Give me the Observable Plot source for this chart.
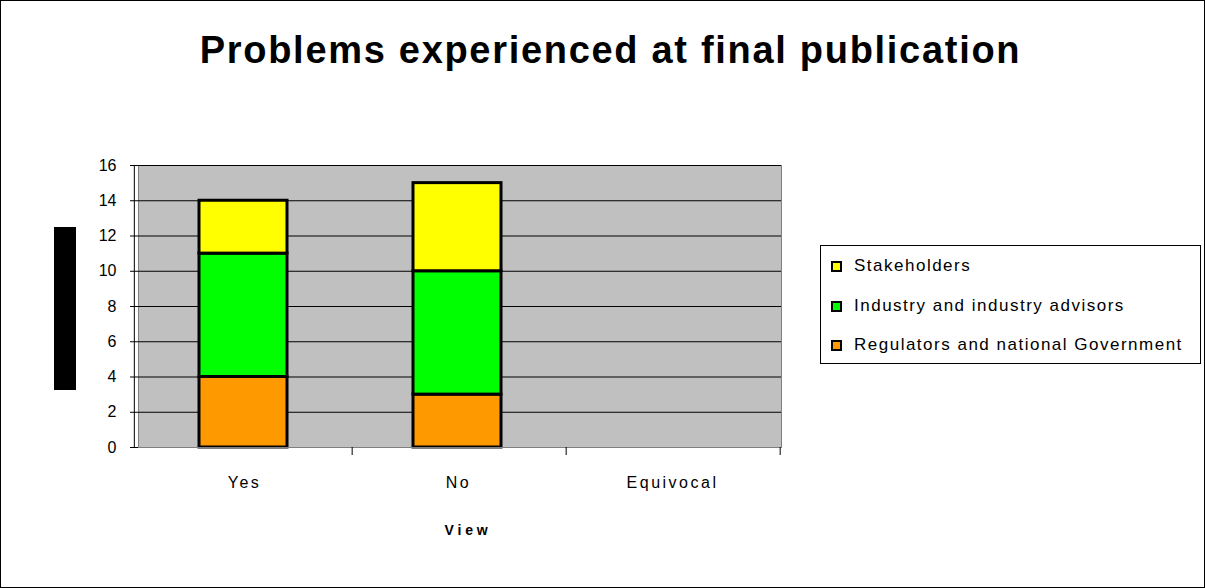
<!DOCTYPE html>
<html>
<head>
<meta charset="utf-8">
<script src="https://cdn.jsdelivr.net/npm/d3@7"></script>
<script src="https://cdn.jsdelivr.net/npm/@observablehq/plot@0.6"></script>
<style>
  body { margin: 0; background: #fff; }
  #frame { position: relative; width: 1205px; height: 588px; box-sizing: border-box; border: 1px solid #000; background: #fff; overflow: hidden; font-family: "Liberation Sans", Arial, sans-serif; }
  #title { position: absolute; left: 7px; width: 1205px; top: 28px; text-align: center; font-weight: bold; font-size: 38px; letter-spacing: 1.7px; color: #000; white-space: nowrap; }
  #chart { position: absolute; left: 0; top: 0; }
  #chart [aria-label="x-axis tick label"] { letter-spacing: 2.5px; }
  #xlabel { position: absolute; left: 367px; width: 200px; top: 521px; text-align: center; font-weight: bold; font-size: 14px; letter-spacing: 3.8px; }
  #ytitle { position: absolute; left: 53px; top: 226px; width: 22px; height: 163px; background: #000; }
  #legend { position: absolute; left: 819px; top: 244px; width: 381px; height: 119px; box-sizing: border-box; border: 1px solid #000; background: #fff; }
  .item { position: absolute; left: 10px; height: 20px; font-size: 17px; letter-spacing: 1.5px; display: flex; align-items: center; white-space: nowrap; }
  .sw { width: 7px; height: 7px; border: 2px solid #000; margin-right: 12px; flex: none; }
</style>
</head>
<body>
<div id="frame">
  <div id="title">Problems experienced at final publication</div>
  <div id="chart"></div>
  <div id="ytitle"></div>
  <div id="xlabel">View</div>
  <div id="legend"></div>
</div>
<script>
const categories = ["Yes", "No", "Equivocal"];
const seriesNames = ["Regulators and national Government", "Industry and industry advisors", "Stakeholders"];
const regulators = [4, 3, 0];
const industry = [7, 7, 0];
const stakeholders = [3, 5, 0];
const seriesColors = ["#FF9900", "#00FF00", "#FFFF00"];
const yTicks = [0, 2, 4, 6, 8, 10, 12, 14, 16];

const seriesValues = [regulators, industry, stakeholders];
const data = [];
seriesNames.forEach((s, si) => categories.forEach((c, ci) => data.push({view: c, series: s, value: seriesValues[si][ci]})));

const W = 800, H = 588, mL = 137, mR = 20, mT = 164, mB = 142;
const step = (W - mL - mR) / categories.length;

const plot = Plot.plot({
  width: W, height: H,
  marginLeft: mL, marginRight: mR, marginTop: mT, marginBottom: mB,
  style: {fontFamily: "'Liberation Sans', Arial, sans-serif", fontSize: "16px", color: "#000", background: "transparent"},
  x: {domain: categories, paddingInner: 0.59, paddingOuter: 0.295, align: 0.48, label: null},
  y: {domain: [0, 16], ticks: yTicks, label: null},
  color: {domain: seriesNames, range: seriesColors},
  marks: [
    Plot.frame({fill: "#C0C0C0", stroke: "#808080"}),
    Plot.gridY(yTicks, {stroke: "#000", strokeOpacity: 1, strokeWidth: 1}),
    Plot.barY(data, {x: "view", y: "value", fill: "series", order: seriesNames, stroke: "#000", strokeWidth: 3, filter: d => d.value > 0}),
    Plot.ruleY([0], {stroke: "#808080"}),
    Plot.axisY(yTicks, {tickSize: 8, tickPadding: 14, tickFormat: d => d, fontSize: 16}),
    Plot.ruleX([categories[0]], {dx: -step / 2 - 2, stroke: "#000"}),
    Plot.axisX(categories, {tickSize: 8, tickFormat: () => "", dx: step / 2 + 1.5, stroke: "#000"}),
    Plot.axisX(categories, {tickSize: 0, tickPadding: 29, fontSize: 16, dx: 1})
  ]
});
document.getElementById("chart").appendChild(plot);

const legend = document.getElementById("legend");
const order = [2, 1, 0];
const tops = [10, 50, 89];
order.forEach((si, i) => {
  const it = document.createElement("div");
  it.className = "item";
  it.style.top = tops[i] + "px";
  it.innerHTML = `<span class="sw" style="background:${seriesColors[si]}"></span><span>${seriesNames[si]}</span>`;
  legend.appendChild(it);
});
</script>
</body>
</html>
